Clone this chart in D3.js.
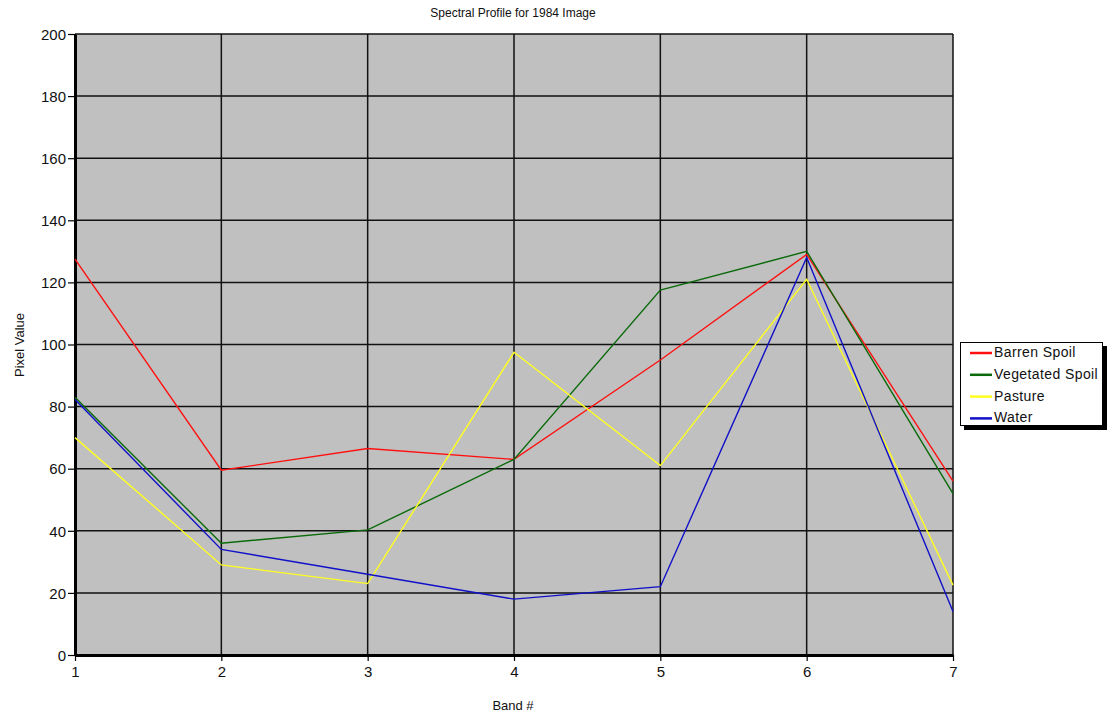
<!DOCTYPE html>
<html><head><meta charset="utf-8">
<script src="https://cdn.jsdelivr.net/npm/d3@7"></script>
<style>body{margin:0;background:#fff;} svg{display:block;} text{font-family:"Liberation Sans",Arial,sans-serif;}</style>
</head><body><svg id="c" width="1111" height="719"></svg>
<script>
const bands = [1, 2, 3, 4, 5, 6, 7];
const yTicks = [0, 20, 40, 60, 80, 100, 120, 140, 160, 180, 200];
const seriesNames = ["Barren Spoil", "Vegetated Spoil", "Pasture", "Water"];
const seriesColors = ["#ff1010", "#0a6a0a", "#ffff20", "#1010c8"];
const barrenSpoil = [127.5, 59.5, 66.5, 63, 95, 129, 56];
const vegetatedSpoil = [83, 36, 40.3, 63, 117.5, 130, 52];
const pasture = [70, 29, 23, 97.5, 61, 121, 22.5];
const water = [82.3, 34, 26, 18, 22, 128, 14];
const seriesValues = [barrenSpoil, vegetatedSpoil, pasture, water];

const svg = d3.select("#c");
const x = d3.scaleLinear().domain([1, 7]).range([75, 953]);
const y = d3.scaleLinear().domain([0, 200]).range([655, 34]);

svg.append("rect").attr("x", x(1)).attr("y", y(200)).attr("width", x(7) - x(1)).attr("height", y(0) - y(200)).attr("fill", "#c0c0c0");

// grid
const g = svg.append("g");
g.selectAll("line.h").data(yTicks).enter().append("line")
  .attr("x1", x(1)).attr("x2", x(7)).attr("y1", d => y(d)).attr("y2", d => y(d))
  .attr("stroke", "#111").attr("stroke-width", 1.5);
g.selectAll("line.v").data(bands).enter().append("line")
  .attr("x1", d => x(d)).attr("x2", d => x(d)).attr("y1", y(200)).attr("y2", y(0))
  .attr("stroke", "#111").attr("stroke-width", 1.5);

// axes
const yAxis = d3.axisLeft(y).tickValues(yTicks).tickSize(7).tickSizeOuter(0).tickPadding(2);
const ya = svg.append("g").attr("transform", `translate(${x(1)},0)`).call(yAxis);
ya.attr("font-size", null).attr("font-family", null);
ya.select(".domain").attr("stroke", "#000").attr("stroke-width", 3);
ya.selectAll(".tick line").attr("stroke", "#000").attr("stroke-width", 1.2);
ya.selectAll("text").style("font-size", "15px").attr("fill", "#111").attr("dy", "0.35em");

const xAxis = d3.axisBottom(x).tickValues(bands).tickFormat(d3.format("d")).tickSize(6).tickSizeOuter(0).tickPadding(5);
const xa = svg.append("g").attr("transform", `translate(0,${y(0)})`).call(xAxis);
xa.attr("font-size", null).attr("font-family", null);
xa.select(".domain").attr("stroke", "#000").attr("stroke-width", 3);
xa.selectAll(".tick line").attr("stroke", "#000").attr("stroke-width", 1.2);
xa.selectAll("text").style("font-size", "15px").attr("fill", "#111");

// lines
const line = d3.line().x((d, i) => x(bands[i])).y(d => y(d));
seriesValues.forEach((vals, k) => {
  svg.append("path").datum(vals).attr("d", line).attr("fill", "none")
    .attr("stroke", seriesColors[k]).attr("stroke-width", 1.4);
});

// titles
svg.append("text").attr("x", 513).attr("y", 17).attr("text-anchor", "middle").style("font-size", "12px").attr("fill", "#111").text("Spectral Profile for 1984 Image");
svg.append("text").attr("x", 513).attr("y", 710).attr("text-anchor", "middle").style("font-size", "13px").attr("fill", "#111").text("Band #");
svg.append("text").attr("transform", "translate(24,345) rotate(-90)").attr("text-anchor", "middle").style("font-size", "13px").attr("fill", "#111").text("Pixel Value");

// legend
const lg = svg.append("g");
lg.append("rect").attr("x", 964).attr("y", 346).attr("width", 143).attr("height", 84).attr("fill", "#000");
lg.append("rect").attr("x", 960.5).attr("y", 342.5).attr("width", 142).attr("height", 83).attr("fill", "#fff").attr("stroke", "#000").attr("stroke-width", 1);
seriesNames.forEach((n, k) => {
  const cy = 352 + k * 21.8;
  lg.append("line").attr("x1", 970).attr("x2", 992).attr("y1", cy + 1).attr("y2", cy + 1).attr("stroke", seriesColors[k]).attr("stroke-width", 2.5);
  lg.append("text").attr("x", 994).attr("y", cy + 5).style("font-size", "14px").style("letter-spacing", "0.4px").attr("fill", "#111").text(n);
});
</script></body></html>
